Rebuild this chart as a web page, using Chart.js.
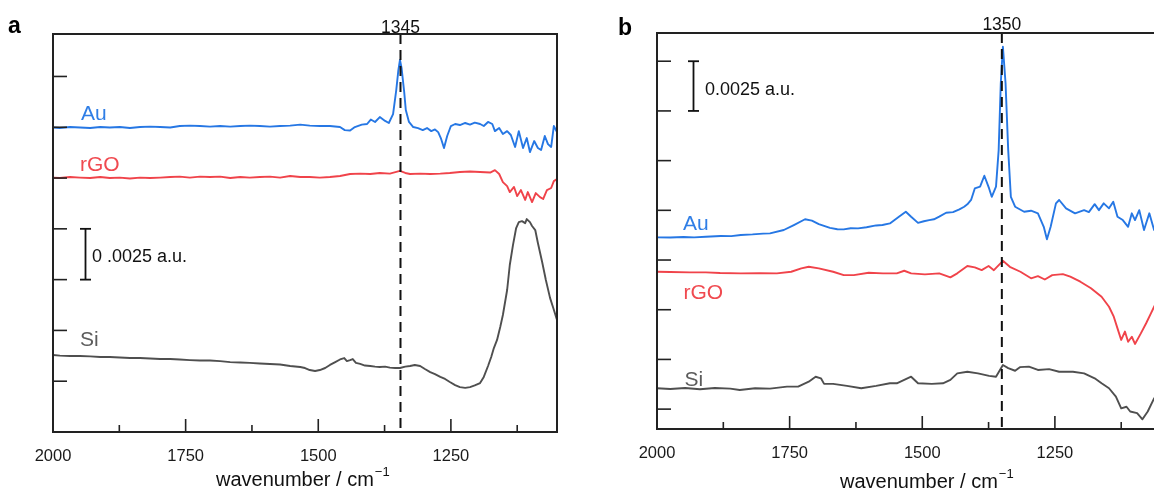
<!DOCTYPE html>
<html><head><meta charset="utf-8">
<script src="https://cdn.jsdelivr.net/npm/chart.js@4.4.1/dist/chart.umd.min.js"></script>
<style>
html,body{margin:0;padding:0;background:#fff;overflow:hidden;width:1154px;height:492px;}
.wrap{position:absolute;top:0;height:492px;width:600px;}
#wa{left:0;}
#wb{left:600px;}
canvas{display:block;}
</style></head><body>
<div class="wrap" id="wa"><canvas id="ca" width="600" height="492"></canvas></div>
<div class="wrap" id="wb"><canvas id="cb" width="600" height="492"></canvas></div>
<script>
// ---------- data (absorbance in units of 10^-3 a.u., offset per trace) ----------
const xTickVals = [2000, 1750, 1500, 1250];
const xMinorTicks = [1875, 1625, 1375, 1125];
const yTicksA = [2.5, 5, 7.5, 10, 12.5, 15, 17.5];
const yTicksB = [0, 2.5, 5, 7.5, 10, 12.5, 15, 17.5];
const peakA = 1345;
const peakB = 1350;
const scaleBarLabelA = '0 .0025 a.u.';
const scaleBarLabelB = '0.0025 a.u.';
const seriesNames = ['Au', 'rGO', 'Si'];

// Panel a
const auA_wn = [2000,1987,1968,1949,1930,1911,1893,1874,1855,1836,1817,1798,1779,1761,1742,1723,1704,1685,1666,1647,1629,1610,1591,1572,1553,1534,1516,1497,1478,1459,1450,1440,1431,1418,1408,1401,1393,1384,1374,1367,1359,1353,1349,1346,1343,1338,1335,1329,1321,1312,1303,1295,1287,1280,1274,1269,1263,1257,1250,1242,1233,1223,1214,1205,1195,1188,1180,1172,1167,1159,1152,1144,1137,1129,1122,1114,1107,1101,1093,1086,1080,1073,1067,1061,1056,1050];
const auA_val = [14.99,14.96,15.01,14.99,14.96,15.01,14.99,15.01,14.96,15.01,15.03,15.01,14.99,15.06,15.08,15.06,15.03,15.06,15.03,15.06,15.08,15.06,15.03,15.06,15.08,15.13,15.08,15.06,15.06,15.01,14.86,14.84,15.01,15.13,15.16,15.38,15.26,15.50,15.31,15.21,15.65,16.83,17.81,18.31,17.92,16.73,15.85,15.26,15.01,14.96,14.86,14.96,14.81,14.89,14.76,14.47,13.98,14.57,15.06,15.16,15.11,15.21,15.13,15.23,15.16,15.06,15.26,15.16,14.81,14.96,14.67,14.81,14.62,14.03,14.81,13.98,14.47,13.78,14.32,13.98,13.88,14.57,14.17,14.03,15.06,14.76];
const rgoA_wn = [2000,1987,1968,1949,1930,1911,1893,1874,1855,1836,1817,1798,1779,1761,1742,1723,1704,1685,1666,1647,1629,1610,1591,1572,1553,1534,1516,1497,1478,1459,1440,1421,1402,1384,1365,1346,1336,1327,1308,1289,1270,1252,1233,1214,1195,1176,1167,1159,1152,1144,1139,1131,1125,1118,1110,1105,1097,1090,1082,1076,1069,1061,1056,1050];
const rgoA_val = [12.52,12.50,12.55,12.52,12.50,12.55,12.50,12.52,12.48,12.52,12.50,12.52,12.55,12.57,12.52,12.57,12.55,12.57,12.50,12.55,12.52,12.55,12.57,12.52,12.60,12.55,12.55,12.52,12.55,12.60,12.70,12.72,12.70,12.75,12.72,12.85,12.75,12.70,12.72,12.70,12.72,12.75,12.80,12.82,12.80,12.77,12.89,12.70,12.30,12.10,11.81,12.06,11.61,11.91,11.42,11.81,11.32,11.76,11.56,11.47,11.91,12.01,12.35,12.45];
const siA_wn = [2000,1987,1968,1949,1930,1911,1893,1874,1855,1836,1817,1798,1779,1761,1742,1723,1704,1685,1666,1647,1629,1610,1591,1572,1553,1534,1525,1516,1506,1497,1487,1478,1468,1459,1451,1446,1440,1435,1429,1421,1412,1402,1393,1384,1374,1365,1355,1346,1336,1327,1318,1308,1299,1289,1280,1270,1261,1252,1242,1233,1223,1214,1205,1195,1188,1180,1174,1169,1163,1157,1152,1144,1139,1133,1127,1122,1116,1110,1107,1101,1097,1091,1086,1078,1071,1063,1057,1050];
const siA_val = [3.79,3.76,3.74,3.74,3.72,3.69,3.69,3.67,3.64,3.64,3.62,3.59,3.59,3.57,3.54,3.52,3.52,3.49,3.44,3.42,3.40,3.37,3.35,3.32,3.25,3.20,3.15,3.05,3.00,3.05,3.15,3.30,3.44,3.57,3.64,3.49,3.54,3.59,3.40,3.35,3.27,3.25,3.22,3.20,3.22,3.17,3.15,3.15,3.22,3.25,3.30,3.25,3.10,2.95,2.85,2.71,2.61,2.46,2.31,2.21,2.17,2.21,2.29,2.41,2.71,3.25,3.69,4.13,4.53,5.17,5.76,6.99,8.22,9.20,10.04,10.33,10.38,10.28,10.48,10.33,10.14,9.94,9.30,8.37,7.48,6.59,6.10,5.51];

// Panel b
const auB_wn = [2000,1975,1950,1930,1908,1880,1860,1842,1820,1800,1787,1761,1742,1721,1708,1695,1674,1660,1648,1635,1621,1605,1587,1575,1561,1544,1531,1521,1508,1497,1487,1478,1468,1455,1442,1430,1421,1415,1408,1401,1391,1383,1374,1369,1361,1356,1352,1348,1343,1338,1333,1325,1308,1295,1282,1271,1265,1258,1248,1242,1229,1212,1195,1186,1175,1167,1158,1148,1140,1132,1122,1112,1105,1099,1091,1082,1072,1063,1057,1050];
const auB_val = [8.64,8.63,8.66,8.64,8.67,8.71,8.70,8.76,8.79,8.83,8.84,9.01,9.26,9.55,9.48,9.31,9.12,9.05,9.04,9.10,9.09,9.15,9.24,9.26,9.34,9.68,9.93,9.68,9.37,9.45,9.51,9.55,9.68,9.88,9.91,10.05,10.18,10.30,10.52,11.10,11.19,11.74,11.10,10.68,11.19,13.03,16.39,18.23,16.39,13.03,10.68,10.18,9.93,9.98,9.85,9.17,8.54,9.17,10.35,10.52,10.10,9.85,10.01,9.91,10.31,10.01,10.35,10.10,10.43,9.68,9.51,9.17,9.85,9.51,10.01,9.01,9.85,9.01,9.61,9.26];
const rgoB_wn = [2000,1975,1938,1908,1881,1842,1806,1774,1747,1728,1714,1695,1668,1648,1629,1601,1574,1548,1534,1521,1495,1468,1447,1434,1415,1401,1388,1375,1365,1348,1335,1315,1295,1282,1269,1255,1235,1221,1202,1182,1162,1148,1139,1132,1125,1118,1112,1105,1099,1088,1078,1069,1063,1056,1050];
const rgoB_val = [6.91,6.90,6.88,6.88,6.85,6.83,6.84,6.83,6.91,7.08,7.16,7.08,6.91,6.74,6.74,6.86,6.83,6.83,6.96,6.83,6.78,6.83,6.63,6.83,7.20,7.13,6.99,7.20,6.99,7.46,7.16,6.91,6.58,6.69,6.52,6.74,6.79,6.66,6.41,6.08,5.65,5.15,4.65,4.06,3.48,3.90,3.39,3.64,3.28,3.81,4.32,4.82,5.15,5.49,5.69];
const siB_wn = [2000,1975,1947,1919,1891,1862,1844,1815,1787,1755,1734,1714,1701,1691,1685,1668,1642,1615,1587,1561,1548,1534,1521,1508,1482,1461,1447,1434,1415,1395,1374,1361,1348,1338,1325,1316,1299,1282,1261,1242,1216,1195,1175,1162,1148,1135,1125,1115,1108,1095,1085,1075,1063,1056,1050];
const siB_val = [1.05,1.01,1.06,1.00,1.06,1.03,0.96,1.05,1.03,1.13,1.13,1.38,1.63,1.55,1.27,1.27,1.17,1.05,1.17,1.30,1.30,1.47,1.63,1.30,1.27,1.30,1.47,1.80,1.88,1.80,1.67,1.63,2.22,2.06,1.93,2.11,2.14,1.97,2.01,1.88,1.88,1.80,1.55,1.30,1.05,0.63,0.04,0.12,-0.12,-0.20,-0.51,-0.12,0.54,0.66,0.76];

// ---------- styling ----------
const COLORS = { Au: '#2677e4', rGO: '#f0434a', Si: '#4f4f4f' };
const LABEL_COLORS = { Au: '#2f7ee6', rGO: '#f04a50', Si: '#5c5c5c' };
const FONT = '"Liberation Sans", Arial, sans-serif';

function pts(wn, val) { return wn.map((w, i) => ({ x: w, y: val[i] })); }

function line(ctx, x1, y1, x2, y2) { ctx.beginPath(); ctx.moveTo(x1, y1); ctx.lineTo(x2, y2); ctx.stroke(); }

function panelPlugin(cfg) {
  return {
    id: 'panel' + cfg.letter,
    afterDatasetsDraw(chart) {
      const ctx = chart.ctx, a = chart.chartArea, xs = chart.scales.x, ys = chart.scales.y;
      ctx.save();
      // dashed marker line
      const px = xs.getPixelForValue(cfg.peak);
      ctx.strokeStyle = '#111'; ctx.lineWidth = 2; ctx.setLineDash([10, 6]);
      line(ctx, px, a.top, px, a.bottom);
      ctx.setLineDash([]);
      // frame
      ctx.strokeStyle = '#222'; ctx.lineWidth = 2;
      ctx.strokeRect(a.left, a.top, a.right - a.left, a.bottom - a.top);
      // y ticks (inward)
      ctx.lineWidth = 1.6;
      cfg.yTicks.forEach(v => { const y = ys.getPixelForValue(v); line(ctx, a.left, y, a.left + 14, y); });
      // x ticks (inward)
      xTickVals.forEach(v => { const x = xs.getPixelForValue(v); line(ctx, x, a.bottom, x, a.bottom - 13); });
      xMinorTicks.forEach(v => { const x = xs.getPixelForValue(v); line(ctx, x, a.bottom, x, a.bottom - 7); });
      // peak label
      ctx.fillStyle = '#111'; ctx.font = '17.5px ' + FONT; ctx.textAlign = 'center'; ctx.textBaseline = 'alphabetic';
      ctx.fillText(String(cfg.peak), px, cfg.peakLabelY);
      // series labels
      ctx.textAlign = 'left'; ctx.font = '21px ' + FONT;
      cfg.labels.forEach(l => { ctx.fillStyle = LABEL_COLORS[l.name]; ctx.fillText(l.name, l.x, l.y); });
      // scale bar
      const yT = ys.getPixelForValue(cfg.bar.hi), yB = ys.getPixelForValue(cfg.bar.lo);
      ctx.strokeStyle = '#111'; ctx.lineWidth = 1.8;
      line(ctx, cfg.bar.x, yT, cfg.bar.x, yB);
      line(ctx, cfg.bar.x - 5.5, yT, cfg.bar.x + 5.5, yT);
      line(ctx, cfg.bar.x - 5.5, yB, cfg.bar.x + 5.5, yB);
      ctx.fillStyle = '#111'; ctx.font = '18px ' + FONT;
      ctx.fillText(cfg.bar.text, cfg.bar.tx, cfg.bar.ty);
      // panel letter
      ctx.font = 'bold 23px ' + FONT; ctx.fillStyle = '#000';
      ctx.fillText(cfg.letter, cfg.letterX, cfg.letterY);
      // axis title with superscript
      ctx.font = '20px ' + FONT; ctx.fillStyle = '#111';
      const main = 'wavenumber / cm';
      ctx.fillText(main, cfg.titleX, cfg.titleY);
      const w = ctx.measureText(main).width;
      ctx.font = '13px ' + FONT;
      ctx.fillText('\u22121', cfg.titleX + w + 1, cfg.titleY - 10);
      ctx.restore();
    }
  };
}

function makeChart(id, cfg, series) {
  return new Chart(document.getElementById(id), {
    type: 'line',
    data: {
      datasets: series.map(s => ({
        label: s.name, data: pts(s.wn, s.val), borderColor: COLORS[s.name],
        borderWidth: 1.9, pointRadius: 0, tension: 0, fill: false, borderJoinStyle: 'round'
      }))
    },
    options: {
      responsive: false, animation: false, devicePixelRatio: 1,
      layout: { padding: { left: cfg.padL, right: cfg.padR, top: cfg.padT, bottom: 0 } },
      plugins: { legend: { display: false }, tooltip: { enabled: false } },
      scales: {
        x: {
          type: 'linear', reverse: true, min: 1050, max: 2000,
          afterBuildTicks: s => { s.ticks = xTickVals.map(v => ({ value: v })); },
          afterFit: s => { s.height = cfg.xAxisH; },
          grid: { display: false, drawTicks: false }, border: { display: false },
          ticks: { font: { family: FONT, size: 16.5 }, color: '#1a1a1a', padding: 15, maxRotation: 0, autoSkip: false, callback: v => String(v) }
        },
        y: { type: 'linear', display: false, min: cfg.ymin, max: cfg.ymax }
      }
    },
    plugins: [panelPlugin(cfg)]
  });
}

makeChart('ca', {
  letter: 'a', letterX: 8, letterY: 33,
  padL: 53, padR: 43, padT: 34, xAxisH: 60, ymin: 0, ymax: 19.59,
  yTicks: yTicksA, peak: peakA, peakLabelY: 33,
  labels: [{ name: 'Au', x: 81, y: 120 }, { name: 'rGO', x: 80, y: 170.5 }, { name: 'Si', x: 80, y: 346 }],
  bar: { x: 85.5, lo: 7.5, hi: 10, text: scaleBarLabelA, tx: 92, ty: 261.5 },
  titleX: 216, titleY: 486
}, [
  { name: 'Au', wn: auA_wn, val: auA_val },
  { name: 'rGO', wn: rgoA_wn, val: rgoA_val },
  { name: 'Si', wn: siA_wn, val: siA_val }
]);

makeChart('cb', {
  letter: 'b', letterX: 18, letterY: 35,
  padL: 57, padR: 39, padT: 33, xAxisH: 63, ymin: -1.0, ymax: 18.92,
  yTicks: yTicksB, peak: peakB, peakLabelY: 29.5,
  labels: [{ name: 'Au', x: 83, y: 230 }, { name: 'rGO', x: 83.5, y: 299 }, { name: 'Si', x: 84.5, y: 385.5 }],
  bar: { x: 93.5, lo: 15, hi: 17.5, text: scaleBarLabelB, tx: 105, ty: 95 },
  titleX: 240, titleY: 488
}, [
  { name: 'Au', wn: auB_wn, val: auB_val },
  { name: 'rGO', wn: rgoB_wn, val: rgoB_val },
  { name: 'Si', wn: siB_wn, val: siB_val }
]);
</script>
</body></html>
